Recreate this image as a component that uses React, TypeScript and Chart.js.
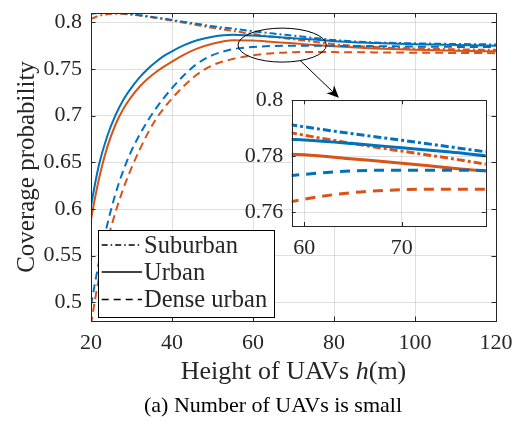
import { useEffect, useRef } from "react";
import { Chart, registerables } from "chart.js";
Chart.register(...registerables);

// ---------------- data ----------------
const H = [20, 21, 22, 24, 26, 28, 30, 32, 34, 36, 38, 40, 43, 46, 50, 55, 60, 65, 70, 75, 80, 90, 100, 110, 120];
const SUBURBAN_BLUE = [0.8092, 0.8098, 0.8103, 0.8107, 0.8104, 0.8097, 0.8088, 0.8077, 0.8065, 0.8053, 0.804, 0.8026, 0.8005, 0.7985, 0.7958, 0.7932, 0.7905, 0.788, 0.7857, 0.7833, 0.781, 0.7785, 0.7775, 0.7768, 0.7763];
const SUBURBAN_ORANGE = [0.8035, 0.8055, 0.807, 0.8087, 0.8092, 0.809, 0.8082, 0.8072, 0.806, 0.8047, 0.8033, 0.8018, 0.7996, 0.7972, 0.7942, 0.7908, 0.7875, 0.7845, 0.7818, 0.7792, 0.7765, 0.7735, 0.772, 0.7711, 0.7705];
const URBAN_BLUE = [0.603, 0.627, 0.648, 0.678, 0.7, 0.717, 0.73, 0.741, 0.75, 0.7575, 0.764, 0.769, 0.7755, 0.7805, 0.7845, 0.7866, 0.7858, 0.7845, 0.783, 0.7815, 0.7797, 0.7778, 0.7765, 0.7757, 0.775];
const URBAN_ORANGE = [0.589, 0.612, 0.633, 0.666, 0.69, 0.7075, 0.7205, 0.731, 0.7395, 0.7465, 0.7525, 0.758, 0.7655, 0.7715, 0.777, 0.7808, 0.7805, 0.779, 0.7775, 0.7758, 0.7743, 0.772, 0.7705, 0.7695, 0.769];
const DENSE_BLUE = [0.497, 0.521, 0.544, 0.583, 0.6155, 0.6415, 0.6625, 0.6795, 0.6945, 0.7075, 0.719, 0.7295, 0.7435, 0.755, 0.7648, 0.7712, 0.7735, 0.7747, 0.775, 0.775, 0.7748, 0.7745, 0.774, 0.7737, 0.7735];
const DENSE_ORANGE = [0.476, 0.503, 0.527, 0.565, 0.596, 0.622, 0.644, 0.6635, 0.681, 0.696, 0.708, 0.7185, 0.732, 0.7435, 0.754, 0.7607, 0.7646, 0.767, 0.768, 0.7682, 0.7681, 0.7678, 0.7675, 0.7672, 0.767];

const X_TICKS = [20, 40, 60, 80, 100, 120];
const Y_TICKS = [0.5, 0.55, 0.6, 0.65, 0.7, 0.75, 0.8];
const INSET_X_TICKS = [60, 70];
const INSET_Y_TICKS = [0.76, 0.78, 0.8];
const LEGEND_LABELS = ["Suburban", "Urban", "Dense urban"];
const X_TITLE_PARTS = ["Height of UAVs ", "h", "(m)"];
const Y_TITLE = "Coverage probability";
const CAPTION = "(a) Number of UAVs is small";

// ---------------- styles ----------------
const FONT = "'Liberation Serif', 'Times New Roman', serif";
const TEXT = "#262626";
const GRID = "rgba(38,38,38,0.15)";
const BLUE = "#0072BD";
const ORANGE = "#D95319";

type Kind = "solid" | "dashed" | "dashdot";
const SERIES: { values: number[]; color: string; kind: Kind }[] = [
  { values: SUBURBAN_BLUE, color: BLUE, kind: "dashdot" },
  { values: URBAN_BLUE, color: BLUE, kind: "solid" },
  { values: DENSE_BLUE, color: BLUE, kind: "dashed" },
  { values: SUBURBAN_ORANGE, color: ORANGE, kind: "dashdot" },
  { values: URBAN_ORANGE, color: ORANGE, kind: "solid" },
  { values: DENSE_ORANGE, color: ORANGE, kind: "dashed" },
];
const LEGEND_KINDS: Kind[] = ["dashdot", "solid", "dashed"];

const DASH_MAIN: Record<Kind, number[]> = { solid: [], dashed: [8, 5], dashdot: [7, 3, 2, 3] };
const DASH_INSET: Record<Kind, number[]> = { solid: [], dashed: [10, 7], dashdot: [8, 3, 3, 3] };
const DASH_LEGEND: Record<Kind, number[]> = { solid: [], dashed: [7, 5], dashdot: [6, 3, 1.5, 3] };

// annotation (data coordinates of main axes)
const ELLIPSE = { h: 67.2, v: 0.7756, dh: 10.9, dv: 0.0182 };
const ARROW = { from: [71.6, 0.7593], to: [81.2, 0.7193] };

function buildDatasets(lw: number, dash: Record<Kind, number[]>) {
  return SERIES.map((s) => ({
    data: H.map((x, i) => ({ x, y: s.values[i] })),
    borderColor: s.color,
    backgroundColor: s.color,
    borderWidth: lw,
    borderDash: dash[s.kind],
    pointRadius: 0,
    fill: false,
    cubicInterpolationMode: "monotone" as const,
    clip: 0,
  }));
}

function fixSize(size: number, isX: boolean) {
  return (s: any) => {
    if (isX) s.height = size;
    else s.width = size;
    s.paddingTop = 0;
    s.paddingBottom = 0;
    s.paddingLeft = 0;
    s.paddingRight = 0;
  };
}

function setTicks(vals: number[]) {
  return (s: any) => {
    s.ticks = vals.map((v) => ({ value: v }));
  };
}

function drawFrame(chart: any, len: number) {
  const { ctx, chartArea: a, scales } = chart;
  ctx.save();
  ctx.strokeStyle = TEXT;
  ctx.lineWidth = 1;
  ctx.setLineDash([]);
  ctx.beginPath();
  for (const t of scales.x.ticks) {
    const px = Math.round(scales.x.getPixelForValue(t.value)) + 0.5;
    ctx.moveTo(px, a.bottom);
    ctx.lineTo(px, a.bottom - len);
    ctx.moveTo(px, a.top);
    ctx.lineTo(px, a.top + len);
  }
  for (const t of scales.y.ticks) {
    const py = Math.round(scales.y.getPixelForValue(t.value)) + 0.5;
    ctx.moveTo(a.left, py);
    ctx.lineTo(a.left + len, py);
    ctx.moveTo(a.right, py);
    ctx.lineTo(a.right - len, py);
  }
  ctx.stroke();
  ctx.strokeRect(Math.round(a.left) + 0.5, Math.round(a.top) + 0.5, Math.round(a.right - a.left), Math.round(a.bottom - a.top));
  ctx.restore();
}

const mainDecor = {
  id: "mainDecor",
  afterDraw(chart: any) {
    const { ctx, chartArea: a, scales } = chart;
    const x = scales.x;
    const y = scales.y;
    drawFrame(chart, 4.5);

    // y title
    ctx.save();
    ctx.fillStyle = TEXT;
    ctx.font = `25px ${FONT}`;
    ctx.textAlign = "center";
    ctx.textBaseline = "middle";
    ctx.translate(27, (a.top + a.bottom) / 2);
    ctx.rotate(-Math.PI / 2);
    ctx.fillText(Y_TITLE, 0, 0);
    ctx.restore();

    // x title (with italic h)
    ctx.save();
    ctx.fillStyle = TEXT;
    ctx.textBaseline = "alphabetic";
    ctx.textAlign = "left";
    const fonts = [`26px ${FONT}`, `italic 26px ${FONT}`, `26px ${FONT}`];
    const widths = X_TITLE_PARTS.map((p, i) => {
      ctx.font = fonts[i];
      return ctx.measureText(p).width;
    });
    const total = widths.reduce((s, w) => s + w, 0);
    let cx = (a.left + a.right) / 2 - total / 2;
    X_TITLE_PARTS.forEach((p, i) => {
      ctx.font = fonts[i];
      ctx.fillText(p, cx, 378.5);
      cx += widths[i];
    });
    ctx.restore();

    // ellipse
    ctx.save();
    ctx.strokeStyle = "#000";
    ctx.fillStyle = "#000";
    ctx.lineWidth = 1;
    const ex = x.getPixelForValue(ELLIPSE.h);
    const ey = y.getPixelForValue(ELLIPSE.v);
    const rx = x.getPixelForValue(ELLIPSE.h + ELLIPSE.dh) - ex;
    const ry = ey - y.getPixelForValue(ELLIPSE.v + ELLIPSE.dv);
    ctx.beginPath();
    ctx.ellipse(ex, ey, rx, ry, 0, 0, Math.PI * 2);
    ctx.stroke();

    // arrow
    const sx = x.getPixelForValue(ARROW.from[0]);
    const sy = y.getPixelForValue(ARROW.from[1]);
    const tx = x.getPixelForValue(ARROW.to[0]);
    const ty = y.getPixelForValue(ARROW.to[1]);
    const dx = tx - sx;
    const dy = ty - sy;
    const ln = Math.hypot(dx, dy);
    const ux = dx / ln;
    const uy = dy / ln;
    const nx = -uy;
    const ny = ux;
    const HL = 12;
    const HW = 5.5;
    const bx = tx - ux * HL;
    const by = ty - uy * HL;
    const mx = tx - ux * HL * 0.7;
    const my = ty - uy * HL * 0.7;
    ctx.beginPath();
    ctx.moveTo(sx, sy);
    ctx.lineTo(mx, my);
    ctx.stroke();
    ctx.beginPath();
    ctx.moveTo(tx, ty);
    ctx.lineTo(bx + nx * HW, by + ny * HW);
    ctx.lineTo(mx, my);
    ctx.lineTo(bx - nx * HW, by - ny * HW);
    ctx.closePath();
    ctx.fill();
    ctx.restore();

    // legend
    ctx.save();
    const L = { left: 98.5, top: 230.5, w: 176, h: 87 };
    ctx.fillStyle = "#fff";
    ctx.fillRect(L.left, L.top, L.w, L.h);
    ctx.strokeStyle = "#000";
    ctx.lineWidth = 1;
    ctx.strokeRect(L.left, L.top, L.w, L.h);
    const lineY = [245, 272, 299.5];
    const baseY = [252.7, 280.2, 307.3];
    ctx.font = `24.5px ${FONT}`;
    ctx.textAlign = "left";
    ctx.textBaseline = "alphabetic";
    LEGEND_LABELS.forEach((lab, i) => {
      ctx.strokeStyle = "#000";
      ctx.lineWidth = 1.4;
      ctx.setLineDash(DASH_LEGEND[LEGEND_KINDS[i]]);
      ctx.beginPath();
      ctx.moveTo(101.7, lineY[i]);
      ctx.lineTo(142, lineY[i]);
      ctx.stroke();
      ctx.setLineDash([]);
      ctx.fillStyle = TEXT;
      ctx.fillText(lab, 144, baseY[i]);
    });
    ctx.restore();
  },
};

const insetDecor = {
  id: "insetDecor",
  beforeDraw(chart: any) {
    const { ctx, chartArea: a } = chart;
    ctx.save();
    ctx.fillStyle = "#fff";
    ctx.fillRect(a.left, a.top, a.right - a.left, a.bottom - a.top);
    ctx.restore();
  },
  afterDraw(chart: any) {
    drawFrame(chart, 4);
  },
};

function axisOpts(min: number, max: number, ticks: number[], size: number, isX: boolean, pad: number) {
  return {
    type: "linear" as const,
    min,
    max,
    afterBuildTicks: setTicks(ticks),
    afterFit: fixSize(size, isX),
    grid: { color: GRID, lineWidth: 1, drawTicks: false },
    border: { display: false },
    ticks: {
      padding: pad,
      autoSkip: false,
      maxRotation: 0,
      color: TEXT,
      font: { family: FONT, size: 22 },
      callback: (v: any) => String(v),
    },
  };
}

export default function App() {
  const mainRef = useRef<HTMLCanvasElement>(null);
  const insetRef = useRef<HTMLCanvasElement>(null);

  useEffect(() => {
    const main = new Chart(mainRef.current as HTMLCanvasElement, {
      type: "line",
      data: { datasets: buildDatasets(2, DASH_MAIN) as any },
      options: {
        responsive: false,
        animation: false,
        devicePixelRatio: 1,
        events: [],
        layout: { padding: { top: 13, right: 24, left: 0, bottom: 0 } },
        plugins: { legend: { display: false }, tooltip: { enabled: false } },
        scales: {
          x: axisOpts(20, 120, X_TICKS, 101, true, 8.8) as any,
          y: axisOpts(0.48, 0.81, Y_TICKS, 91, false, 9) as any,
        },
      },
      plugins: [mainDecor],
    });
    const inset = new Chart(insetRef.current as HTMLCanvasElement, {
      type: "line",
      data: { datasets: buildDatasets(3, DASH_INSET) as any },
      options: {
        responsive: false,
        animation: false,
        devicePixelRatio: 1,
        events: [],
        layout: { padding: { top: 20.3, right: 14.3, left: 0, bottom: 0 } },
        plugins: { legend: { display: false }, tooltip: { enabled: false } },
        scales: {
          x: axisOpts(58.7, 78.6, INSET_X_TICKS, 34, true, 9.1) as any,
          y: axisOpts(0.755, 0.8, INSET_Y_TICKS, 51.7, false, 8.4) as any,
        },
      },
      plugins: [insetDecor],
    });
    return () => {
      main.destroy();
      inset.destroy();
    };
  }, []);

  return (
    <div style={{ position: "fixed", left: 0, top: 0, width: 520, height: 422, background: "#fff", overflow: "hidden" }}>
      <canvas ref={mainRef} width={520} height={422} style={{ position: "absolute", left: 0, top: 0 }} />
      <canvas ref={insetRef} width={260} height={180} style={{ position: "absolute", left: 240, top: 80 }} />
      <div
        style={{
          position: "absolute",
          left: 73,
          top: 392.5,
          width: 400,
          textAlign: "center",
          fontFamily: FONT,
          fontSize: 22,
          lineHeight: "24px",
          color: "#000",
          whiteSpace: "nowrap",
        }}
      >
        {CAPTION}
      </div>
    </div>
  );
}
